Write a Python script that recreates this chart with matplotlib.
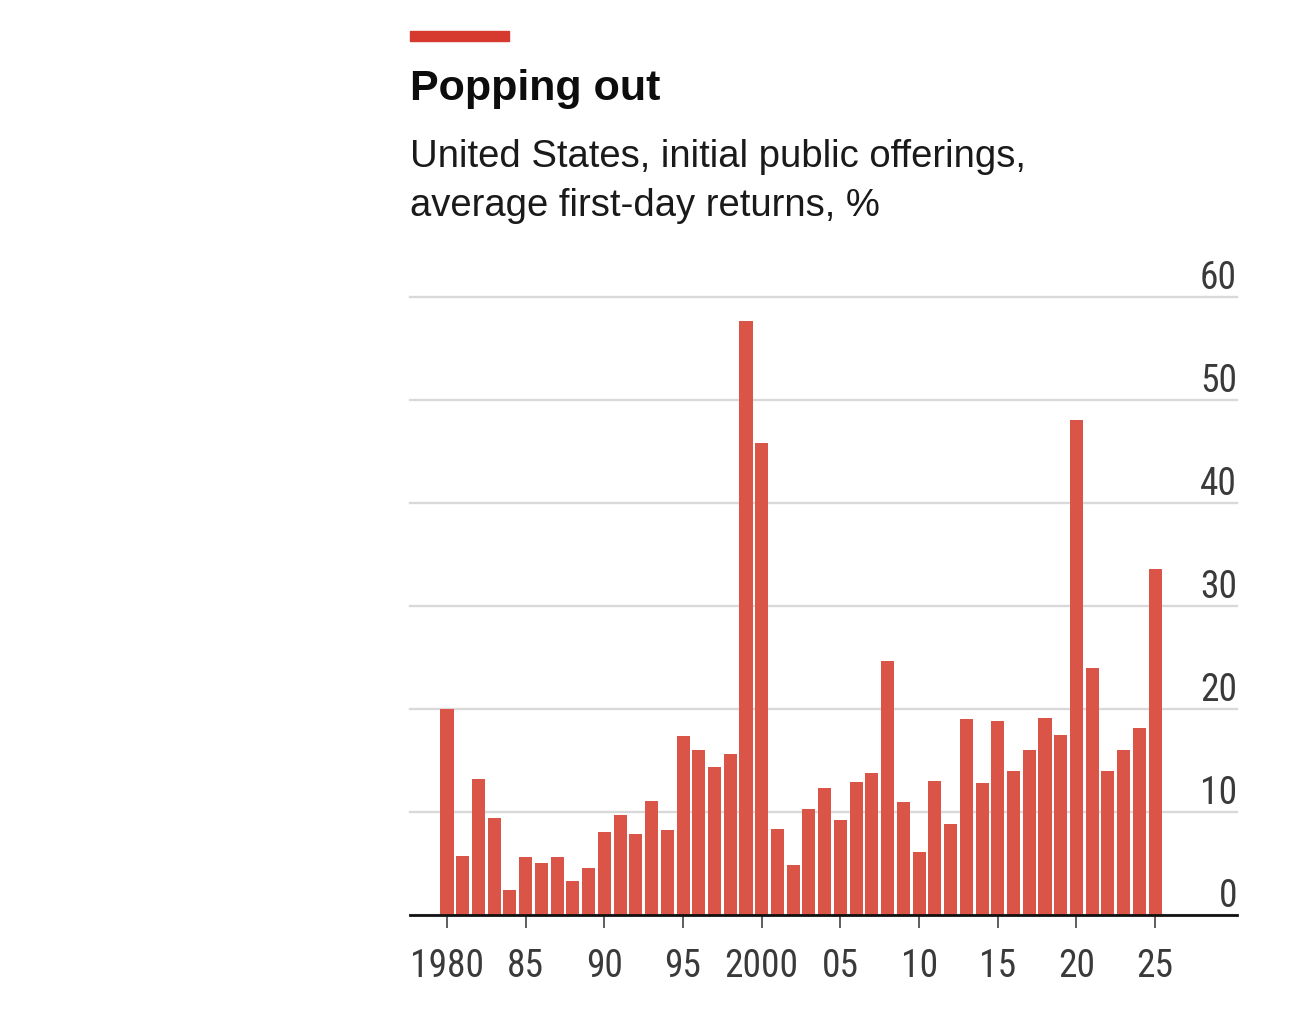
import matplotlib
matplotlib.use("Agg")
import matplotlib.pyplot as plt
from matplotlib import font_manager
from matplotlib.patches import Rectangle

# average first-day returns of US IPOs, %
years = list(range(1980, 2026))
returns = [
    20.0, 5.7, 13.2, 9.4, 2.4, 5.6, 5.0, 5.6, 3.3, 4.6,
    8.1, 9.7, 7.9, 11.1, 8.2, 17.4, 16.0, 14.4, 15.6, 57.6,
    45.8, 8.3, 4.9, 10.3, 12.3, 9.2, 12.9, 13.8, 24.6, 11.0,
    6.1, 13.0, 8.8, 19.0, 12.8, 18.8, 14.0, 16.0, 19.1, 17.5,
    48.0, 24.0, 14.0, 16.0, 18.1, 33.6,
]
xtick_years = [1980, 1985, 1990, 1995, 2000, 2005, 2010, 2015, 2020, 2025]
xtick_labels = ["1980", "85", "90", "95", "2000", "05", "10", "15", "20", "25"]
ytick_values = [0, 10, 20, 30, 40, 50, 60]

title = "Popping out"
subtitle_lines = ["United States, initial public offerings,",
                  "average first-day returns, %"]

# pick a narrow face for the axis numbers if one is around
installed = {f.name for f in font_manager.fontManager.ttflist}
narrow = None
for name in ["Liberation Sans Narrow", "Roboto Condensed", "DejaVu Sans Condensed",
             "Open Sans Condensed"]:
    if name in installed:
        narrow = name
        break
plt.rcParams['font.family'] = ['Liberation Sans', 'DejaVu Sans']
num_family = [narrow, 'Liberation Sans'] if narrow else ['Liberation Sans']
num_size = 27 if narrow else 25

bar_color = "#DB5448"
red = "#D63A2E"
num_color = "#3A3A3A"

fig = plt.figure(figsize=(13.05, 10.25), dpi=100)
fig.patch.set_facecolor("white")
ax = fig.add_axes([410 / 1305, 110 / 1025, 827 / 1305, (915 - 296.7) / 1025])

ax.bar(years, returns, width=0.83, color=bar_color, zorder=2)

ax.set_xlim(1977.65, 2030.2)
ax.set_ylim(0, 60)

# gridlines
ax.set_yticks(ytick_values)
ax.yaxis.grid(True, color="#D9D9D9", linewidth=1.7, zorder=0)
for gl in ax.get_ygridlines():
    gl.set_clip_on(False)
ax.set_axisbelow(True)

ax.yaxis.set_ticks_position("right")
ax.tick_params(axis="y", length=0, pad=0, labelcolor=num_color,
               labelright=True, labelleft=False)
for lab in ax.get_yticklabels():
    lab.set_ha("right")
    lab.set_va("bottom")
    lab.set_family(num_family)
    lab.set_fontsize(num_size)

ax.set_xticks(xtick_years)
ax.set_xticklabels(xtick_labels)
ax.tick_params(axis="x", direction="out", length=9.5, width=1.1, color="#333333",
               pad=14, labelcolor=num_color)
for lab in ax.get_xticklabels():
    lab.set_family(num_family)
    lab.set_fontsize(num_size)

for side in ["top", "right", "left"]:
    ax.spines[side].set_visible(False)
ax.spines["bottom"].set_color("#111111")
ax.spines["bottom"].set_linewidth(2.0)
ax.spines["bottom"].set_zorder(3)

# header
fig.patches.append(Rectangle((410 / 1305, 1 - 40.5 / 1025), 99 / 1305, 9.5 / 1025,
                             transform=fig.transFigure, color=red))
fig.text(410 / 1305, 1 - 100 / 1025, title, fontsize=31, fontweight="bold",
         color="#0D0D0D", va="baseline", ha="left")
for i, line in enumerate(subtitle_lines):
    fig.text(410 / 1305, 1 - (167 + 49 * i) / 1025, line, fontsize=27.5,
             color="#1A1A1A", va="baseline", ha="left")

fig.savefig("out.png", dpi=100, facecolor="white")
